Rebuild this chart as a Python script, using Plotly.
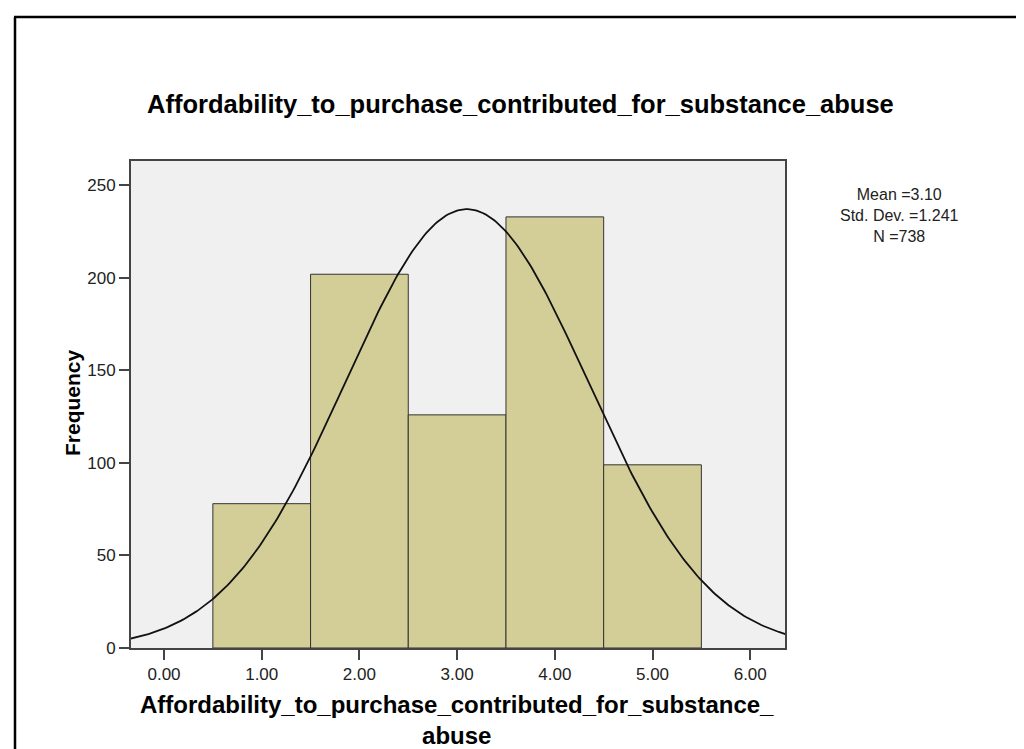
import numpy as np
import plotly.graph_objects as go

# histogram of the 1-5 scale answers
bins = [1, 2, 3, 4, 5]
counts = [78, 202, 126, 233, 99]
x_ticks = [0, 1, 2, 3, 4, 5, 6]
y_ticks = [0, 50, 100, 150, 200, 250]

title = 'Affordability_to_purchase_contributed_for_substance_abuse'
x_title = 'Affordability_to_purchase_contributed_for_substance_<br>abuse'

FONT = 'Liberation Sans, Arial, sans-serif'
W, H = 1024, 749
L, R, T, B = 123, 247, 153, 109
PW, PH = W - L - R, H - T - B


def px(x):
    return (x - L) / PW


def py(y):
    return (H - B - y) / PH


# fitted normal curve from the counts
n = sum(counts)
mean = sum(b * c for b, c in zip(bins, counts)) / n
sd = np.sqrt(sum(c * (b - mean) ** 2 for b, c in zip(bins, counts)) / (n - 1))
xs = np.linspace(-0.34, 6.36, 300)
ys = n * 1.0 / (sd * np.sqrt(2 * np.pi)) * np.exp(-0.5 * ((xs - mean) / sd) ** 2)

fig = go.Figure()
fig.add_trace(go.Bar(x=bins, y=counts, width=1,
                     marker=dict(color='#D3CE98', line=dict(color='#333333', width=1))))
fig.add_trace(go.Scatter(x=xs, y=ys, mode='lines', line=dict(color='#111111', width=1.8)))

fig.update_layout(
    width=W, height=H,
    margin=dict(l=L, r=R, t=T, b=B, pad=0),
    paper_bgcolor='white', plot_bgcolor='#F0F0F0',
    showlegend=False,
    font=dict(family=FONT, color='#222222'),
)
axis_style = dict(showline=True, mirror=True, linecolor='#444444', linewidth=2,
                  ticks='outside', ticklen=10, tickwidth=2, tickcolor='#444444',
                  showgrid=False, zeroline=False, tickfont=dict(size=17, color='#222222'))
fig.update_xaxes(range=[-0.338, 6.356], tickvals=x_ticks, tickformat='.2f', **axis_style)
fig.update_yaxes(range=[0, 263.2], tickvals=y_ticks, **axis_style)

stats = 'Mean =%.2f<br>Std. Dev. =%.3f<br>N =%d' % (mean, sd, n)

annots = [
    dict(x=px(512), y=py(96), text='<b>' + title + '</b>', font=dict(size=25.5, color='#000000')),
    dict(x=px(449), y=py(712), text='<b>' + x_title + '</b>', font=dict(size=24, color='#000000')),
    dict(x=px(64), y=py(395), text='<b>Frequency</b>', textangle=-90, font=dict(size=21, color='#000000')),
    dict(x=px(891), y=py(208), text=stats, font=dict(size=16, color='#222222')),
]
for a in annots:
    fig.add_annotation(xref='paper', yref='paper', showarrow=False,
                       xanchor='center', yanchor='middle', align='center', **a)

# frame lines on the top and left of the picture
fig.add_shape(type='line', xref='paper', yref='paper', x0=px(7), y0=py(749), x1=px(7), y1=py(9),
              line=dict(color='black', width=2.5))
fig.add_shape(type='line', xref='paper', yref='paper', x0=px(6), y0=py(9), x1=px(1024), y1=py(9),
              line=dict(color='black', width=2.5))

fig.write_html('out.html')
